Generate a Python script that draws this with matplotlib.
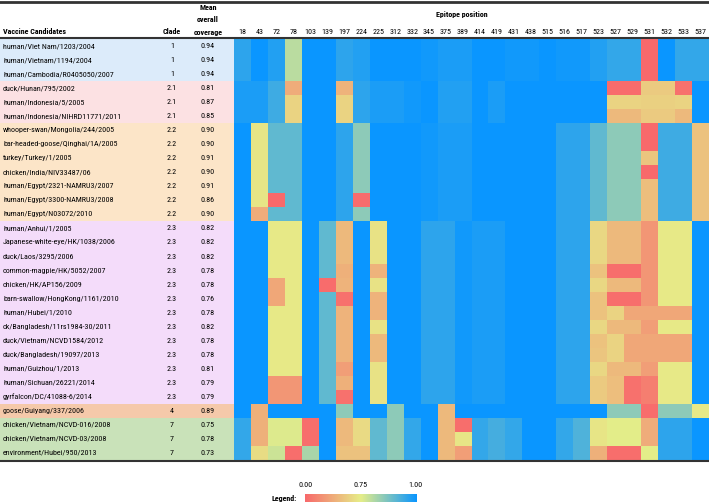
import numpy as np
import matplotlib
matplotlib.use("Agg")
import matplotlib.pyplot as plt
from matplotlib import font_manager
from matplotlib.colors import LinearSegmentedColormap
from matplotlib.lines import Line2D

# the original uses a condensed sans, take the narrowest one we have
installed = {f.name for f in font_manager.fontManager.ttflist}
family = 'Liberation Sans'
for cand in ['Liberation Sans Narrow', 'Roboto Condensed', 'Noto Sans Condensed',
             'Open Sans Condensed', 'DejaVu Sans Condensed']:
    if cand in installed:
        family = cand
        break
plt.rcParams['font.family'] = [family, 'DejaVu Sans']

strains = ["human/Viet Nam/1203/2004", "human/Vietnam/1194/2004", "human/Cambodia/R0405050/2007",
           "duck/Hunan/795/2002", "human/Indonesia/5/2005", "human/Indonesia/NIHRD11771/2011",
           "whooper-swan/Mongolia/244/2005", "bar-headed-goose/Qinghai/1A/2005", "turkey/Turkey/1/2005",
           "chicken/India/NIV33487/06", "human/Egypt/2321-NAMRU3/2007", "human/Egypt/3300-NAMRU3/2008",
           "human/Egypt/N03072/2010", "human/Anhui/1/2005", "Japanese-white-eye/HK/1038/2006",
           "duck/Laos/3295/2006", "common-magpie/HK/5052/2007", "chicken/HK/AP156/2009",
           "barn-swallow/HongKong/1161/2010", "human/Hubei/1/2010", "ck/Bangladesh/11rs1984-30/2011",
           "duck/Vietnam/NCVD1584/2012", "duck/Bangladesh/19097/2013", "human/Guizhou/1/2013",
           "human/Sichuan/26221/2014", "gyrfalcon/DC/41088-6/2014", "goose/Guiyang/337/2006",
           "chicken/Vietnam/NCVD-016/2008", "chicken/Vietnam/NCVD-03/2008", "environment/Hubei/950/2013"]
clades = ["1"] * 3 + ["2.1"] * 3 + ["2.2"] * 7 + ["2.3"] * 13 + ["4"] + ["7"] * 3
mean_cov = ["0.94", "0.94", "0.94", "0.81", "0.87", "0.85",
            "0.90", "0.90", "0.91", "0.90", "0.91", "0.86", "0.90",
            "0.82", "0.82", "0.82", "0.78", "0.78", "0.76", "0.78", "0.82", "0.78", "0.78", "0.81", "0.79", "0.79",
            "0.89", "0.75", "0.78", "0.73"]
positions = [18, 43, 72, 78, 103, 139, 197, 224, 225, 312, 332, 345, 375, 389,
             414, 419, 431, 438, 515, 516, 517, 523, 527, 529, 531, 532, 533, 537]

# epitope coverage per strain (columns follow positions)
cov_clade1 = [
    [0.96, 1.00, 0.97, 0.80, 1.00, 1.00, 0.96, 0.97, 1.00, 1.00, 1.00, 0.99, 0.98, 0.98, 1.00, 1.00, 0.99, 0.99, 1.00, 0.99, 0.99, 0.97, 0.95, 0.95, 0.00, 1.00, 0.95, 0.95],
    [0.96, 1.00, 0.97, 0.80, 1.00, 1.00, 0.96, 0.97, 1.00, 1.00, 1.00, 0.99, 0.98, 0.98, 1.00, 1.00, 0.99, 0.99, 1.00, 0.99, 0.99, 0.97, 0.95, 0.95, 0.00, 1.00, 0.95, 0.95],
    [0.96, 1.00, 0.97, 0.80, 1.00, 1.00, 0.96, 0.97, 1.00, 1.00, 1.00, 0.99, 0.98, 0.98, 1.00, 1.00, 0.99, 0.99, 1.00, 0.99, 0.99, 0.97, 0.95, 0.95, 0.00, 1.00, 0.95, 0.95],
]
cov_clade21 = [
    [0.98, 0.98, 0.94, 0.38, 1.00, 1.00, 0.42, 0.96, 0.98, 0.98, 0.99, 1.00, 0.97, 0.97, 1.00, 0.98, 1.00, 1.00, 1.00, 1.00, 1.00, 1.00, 0.02, 0.02, 0.55, 0.55, 0.05, 1.00],
    [0.98, 0.98, 0.94, 0.60, 1.00, 1.00, 0.60, 0.96, 0.98, 0.98, 0.99, 1.00, 0.97, 0.97, 1.00, 0.98, 1.00, 1.00, 1.00, 1.00, 1.00, 1.00, 0.60, 0.60, 0.58, 0.58, 0.60, 1.00],
    [0.98, 0.98, 0.94, 0.60, 1.00, 1.00, 0.60, 0.96, 0.98, 0.98, 0.99, 1.00, 0.97, 0.97, 1.00, 0.98, 1.00, 1.00, 1.00, 1.00, 1.00, 1.00, 0.45, 0.45, 0.55, 0.55, 0.45, 1.00],
]
cov_clade22 = [
    [1.00, 0.70, 0.90, 0.90, 1.00, 1.00, 0.96, 0.85, 1.00, 1.00, 1.00, 0.99, 0.98, 0.98, 1.00, 1.00, 1.00, 1.00, 1.00, 0.96, 0.96, 0.90, 0.85, 0.85, 0.00, 0.94, 0.94, 0.50],
    [1.00, 0.70, 0.90, 0.90, 1.00, 1.00, 0.96, 0.85, 1.00, 1.00, 1.00, 0.99, 0.98, 0.98, 1.00, 1.00, 1.00, 1.00, 1.00, 0.96, 0.96, 0.90, 0.85, 0.85, 0.00, 0.94, 0.94, 0.50],
    [1.00, 0.70, 0.90, 0.90, 1.00, 1.00, 0.96, 0.85, 1.00, 1.00, 1.00, 0.99, 0.98, 0.98, 1.00, 1.00, 1.00, 1.00, 1.00, 0.96, 0.96, 0.90, 0.85, 0.85, 0.52, 0.94, 0.94, 0.50],
    [1.00, 0.70, 0.90, 0.90, 1.00, 1.00, 0.96, 0.85, 1.00, 1.00, 1.00, 0.99, 0.98, 0.98, 1.00, 1.00, 1.00, 1.00, 1.00, 0.96, 0.96, 0.90, 0.85, 0.85, 0.00, 0.94, 0.94, 0.50],
    [1.00, 0.70, 0.90, 0.90, 1.00, 1.00, 0.96, 0.85, 1.00, 1.00, 1.00, 0.99, 0.98, 0.98, 1.00, 1.00, 1.00, 1.00, 1.00, 0.96, 0.96, 0.90, 0.85, 0.85, 0.48, 0.94, 0.94, 0.50],
    [1.00, 0.70, 0.00, 0.90, 1.00, 1.00, 0.96, 0.02, 1.00, 1.00, 1.00, 0.99, 0.98, 0.98, 1.00, 1.00, 1.00, 1.00, 1.00, 0.96, 0.96, 0.90, 0.85, 0.85, 0.48, 0.94, 0.94, 0.50],
    [1.00, 0.38, 0.90, 0.90, 1.00, 1.00, 0.96, 0.85, 1.00, 1.00, 1.00, 0.99, 0.98, 0.98, 1.00, 1.00, 1.00, 1.00, 1.00, 0.96, 0.96, 0.90, 0.85, 0.85, 0.48, 0.94, 0.94, 0.50],
]
cov_clade23 = [
    [1.00, 1.00, 0.72, 0.72, 1.00, 0.90, 0.45, 1.00, 0.68, 1.00, 1.00, 0.96, 0.96, 0.99, 0.98, 0.98, 1.00, 1.00, 1.00, 0.96, 0.96, 0.62, 0.45, 0.45, 0.25, 0.72, 0.72, 1.00],
    [1.00, 1.00, 0.72, 0.72, 1.00, 0.90, 0.45, 1.00, 0.68, 1.00, 1.00, 0.96, 0.96, 0.99, 0.98, 0.98, 1.00, 1.00, 1.00, 0.96, 0.96, 0.62, 0.45, 0.45, 0.25, 0.72, 0.72, 1.00],
    [1.00, 1.00, 0.72, 0.72, 1.00, 0.90, 0.45, 1.00, 0.68, 1.00, 1.00, 0.96, 0.96, 0.99, 0.98, 0.98, 1.00, 1.00, 1.00, 0.96, 0.96, 0.62, 0.45, 0.45, 0.25, 0.72, 0.72, 1.00],
    [1.00, 1.00, 0.72, 0.72, 1.00, 0.90, 0.40, 1.00, 0.42, 1.00, 1.00, 0.96, 0.96, 0.99, 0.98, 0.98, 1.00, 1.00, 1.00, 0.96, 0.96, 0.50, 0.03, 0.03, 0.25, 0.72, 0.72, 1.00],
    [1.00, 1.00, 0.35, 0.72, 1.00, 0.02, 0.42, 1.00, 0.68, 1.00, 1.00, 0.96, 0.96, 0.99, 0.98, 0.98, 1.00, 1.00, 1.00, 0.96, 0.96, 0.62, 0.45, 0.45, 0.25, 0.72, 0.72, 1.00],
    [1.00, 1.00, 0.35, 0.72, 1.00, 0.90, 0.05, 1.00, 0.42, 1.00, 1.00, 0.96, 0.96, 0.99, 0.98, 0.98, 1.00, 1.00, 1.00, 0.96, 0.96, 0.50, 0.03, 0.03, 0.25, 0.72, 0.72, 1.00],
    [1.00, 1.00, 0.72, 0.72, 1.00, 0.90, 0.42, 1.00, 0.42, 1.00, 1.00, 0.96, 0.96, 0.99, 0.98, 0.98, 1.00, 1.00, 1.00, 0.96, 0.96, 0.50, 0.60, 0.35, 0.35, 0.35, 0.35, 1.00],
    [1.00, 1.00, 0.72, 0.72, 1.00, 0.90, 0.42, 1.00, 0.68, 1.00, 1.00, 0.96, 0.96, 0.99, 0.98, 0.98, 1.00, 1.00, 1.00, 0.96, 0.96, 0.62, 0.45, 0.45, 0.30, 0.72, 0.72, 1.00],
    [1.00, 1.00, 0.72, 0.72, 1.00, 0.90, 0.42, 1.00, 0.45, 1.00, 1.00, 0.96, 0.96, 0.99, 0.98, 0.98, 1.00, 1.00, 1.00, 0.96, 0.96, 0.50, 0.60, 0.35, 0.35, 0.35, 0.35, 1.00],
    [1.00, 1.00, 0.72, 0.72, 1.00, 0.90, 0.42, 1.00, 0.45, 1.00, 1.00, 0.96, 0.96, 0.99, 0.98, 0.98, 1.00, 1.00, 1.00, 0.96, 0.96, 0.52, 0.60, 0.35, 0.35, 0.35, 0.35, 1.00],
    [1.00, 1.00, 0.72, 0.72, 1.00, 0.90, 0.30, 1.00, 0.68, 1.00, 1.00, 0.96, 0.96, 0.99, 0.98, 0.98, 1.00, 1.00, 1.00, 0.96, 0.96, 0.62, 0.45, 0.45, 0.30, 0.72, 0.72, 1.00],
    [1.00, 1.00, 0.25, 0.25, 1.00, 0.90, 0.40, 1.00, 0.68, 1.00, 1.00, 0.96, 0.96, 0.99, 0.98, 0.98, 1.00, 1.00, 1.00, 0.96, 0.96, 0.55, 0.48, 0.05, 0.12, 0.72, 0.72, 1.00],
    [1.00, 1.00, 0.25, 0.25, 1.00, 0.90, 0.05, 1.00, 0.68, 1.00, 1.00, 0.96, 0.96, 0.99, 0.98, 0.98, 1.00, 1.00, 1.00, 0.96, 0.96, 0.55, 0.48, 0.05, 0.12, 0.72, 0.72, 1.00],
]
cov_clade4 = [
    [1.00, 0.40, 1.00, 1.00, 1.00, 1.00, 0.85, 1.00, 1.00, 0.85, 1.00, 1.00, 0.45, 1.00, 1.00, 1.00, 1.00, 1.00, 1.00, 1.00, 1.00, 1.00, 0.85, 0.85, 0.02, 0.85, 0.85, 0.72],
]
cov_clade7 = [
    [0.95, 0.40, 0.76, 0.76, 0.03, 1.00, 0.45, 0.64, 0.90, 0.85, 0.95, 1.00, 0.45, 0.03, 0.95, 0.93, 0.95, 1.00, 1.00, 0.95, 0.92, 0.70, 0.75, 0.75, 0.38, 0.96, 0.96, 1.00],
    [0.95, 0.40, 0.76, 0.76, 0.03, 1.00, 0.45, 0.64, 0.90, 0.85, 0.95, 1.00, 0.45, 0.70, 0.95, 0.93, 0.95, 1.00, 1.00, 0.95, 0.92, 0.70, 0.75, 0.75, 0.38, 0.96, 0.96, 1.00],
    [0.95, 0.65, 0.78, 0.03, 0.82, 1.00, 0.50, 0.50, 0.90, 0.85, 0.95, 1.00, 0.45, 0.30, 0.95, 0.93, 0.95, 1.00, 1.00, 0.95, 0.92, 0.40, 0.03, 0.03, 0.75, 0.96, 0.96, 1.00],
]
coverage = np.array(cov_clade1 + cov_clade21 + cov_clade22 + cov_clade23 + cov_clade4 + cov_clade7)

clade_colors = {"1": "#dcebfa", "2.1": "#fce1e3", "2.2": "#fce5c8", "2.3": "#f4dcfa",
                "4": "#f5c9aa", "7": "#c9e2b9"}

cmap = LinearSegmentedColormap.from_list("cov", [(0, "#f8696b"), (0.75, "#e6ee88"), (1, "#0a96ff")])

W, H = 709, 504
fig = plt.figure(figsize=(W / 100, H / 100), dpi=100)

def fx(x):
    return x / W

def fy(y):
    return 1 - y / H

# size the font so the longest strain name is as wide as in the original
r = fig.canvas.get_renderer()
probe = fig.text(0, 0, strains[5], fontsize=10)
fs = 10 * 117 / probe.get_window_extent(r).width
probe.remove()

top, bottom = 39, 460
n = len(strains)

# left table
tax = fig.add_axes([0, fy(bottom), fx(234), (bottom - top) / H])
tax.barh(np.arange(n), 234, left=0, height=1, align='edge',
         color=[clade_colors[c] for c in clades])
for i in range(n):
    tax.text(3, i + 0.5, strains[i], fontsize=fs, va='center', ha='left')
    tax.text(172, i + 0.5, clades[i], fontsize=fs, va='center', ha='center')
    tax.text(208, i + 0.5, mean_cov[i], fontsize=fs, va='center', ha='center')
tax.set_xlim(0, 234)
tax.set_ylim(n, 0)
tax.axis('off')

# heatmap
ax = fig.add_axes([fx(234), fy(bottom), fx(W - 234), (bottom - top) / H])
ax.pcolormesh(coverage, cmap=cmap, vmin=0, vmax=1)
ax.set_ylim(n, 0)
ax.set_xlim(0, len(positions))
ax.xaxis.tick_top()
ax.set_xticks(np.arange(len(positions)) + 0.5)
ax.set_xticklabels([str(p) for p in positions], fontsize=fs)
ax.tick_params(axis='x', length=0, pad=3)
ax.set_yticks([])
for s in ax.spines.values():
    s.set_visible(False)

# header
fig.text(fx(3), fy(32), "Vaccine Candidates", fontsize=fs, fontweight='bold', va='center')
fig.text(fx(172), fy(32), "Clade", fontsize=fs, fontweight='bold', va='center', ha='center')
for txt, yy in [("Mean", 7), ("overall", 20), ("coverage", 32)]:
    fig.text(fx(208), fy(yy), txt, fontsize=fs, fontweight='bold', va='center', ha='center')
fig.text(fx(462), fy(15), "Epitope position", fontsize=fs, fontweight='bold', va='center', ha='center')

for yy, lw in [(1.5, 2), (38, 1.5), (460.5, 1.5)]:
    fig.add_artist(Line2D([0, 1], [fy(yy), fy(yy)], transform=fig.transFigure, color='#333333', lw=lw))

# legend bar
legend_ticks = ["0.00", "0.75", "1.00"]
lax = fig.add_axes([fx(305), fy(502), fx(112), 8 / H])
grad = np.concatenate([np.linspace(0, 0.75, 128), np.linspace(0.75, 1, 128)])
lax.imshow(grad[np.newaxis, :], cmap=cmap, vmin=0, vmax=1, aspect='auto', extent=[0, 1, 0, 1])
lax.axis('off')
for t, xx in zip(legend_ticks, [306, 361, 415]):
    fig.text(fx(xx), fy(485), t, fontsize=fs, va='center', ha='center')
fig.text(fx(284), fy(498), "Legend:", fontsize=fs, fontweight='bold', va='center', ha='center')

plt.savefig("out.png", dpi=100)
